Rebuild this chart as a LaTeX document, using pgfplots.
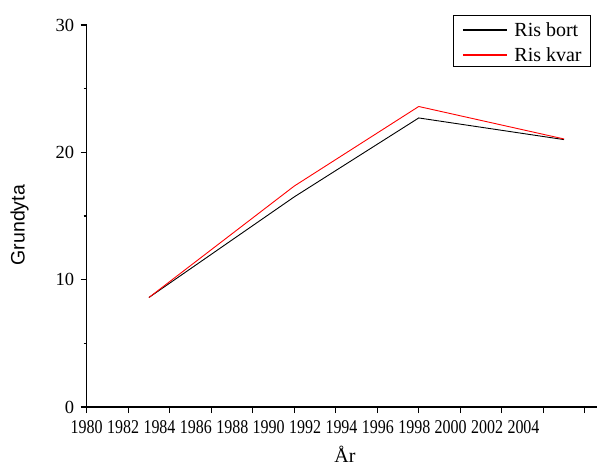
\documentclass[border=0pt]{standalone}
\usepackage{fontspec}
\setmainfont{Liberation Serif}
\newfontfamily\arialfont{Liberation Sans}
\usepackage{graphicx}
\usepackage{pgfplots}
\pgfplotsset{compat=1.18}
\newcommand{\xl}[1]{\scalebox{0.82}[1]{#1}}
\begin{document}
\begin{tikzpicture}[x=1pt,y=1pt]
\path[use as bounding box] (0,0) rectangle (600,466);
\begin{axis}[
  at={(86.7pt,59pt)}, anchor=south west,
  scale only axis, width=510.3pt, height=382pt,
  xmin=1980, xmax=2004.59, ymin=0, ymax=30,
  axis x line*=bottom, axis y line*=left,
  axis line style={line width=1.1pt, -},
  every tick/.style={black, line width=1.1pt},
  tick align=outside,
  major tick length=6pt, minor tick length=3pt,
  xtick={1980,1982,...,2004}, xticklabels={}, minor x tick num=1,
  extra x ticks={1980,1981.754,1983.508,1985.262,1987.016,1988.77,1990.524,1992.278,1994.032,1995.786,1997.54,1999.294,2001.048},
  extra x tick labels={\xl{1980},\xl{1982},\xl{1984},\xl{1986},\xl{1988},\xl{1990},\xl{1992},\xl{1994},\xl{1996},\xl{1998},\xl{2000},\xl{2002},\xl{2004}},
  extra x tick style={major tick length=0pt, xticklabel style={yshift=-10pt}},
  ytick={0,10,20,30}, minor y tick num=1,
  xticklabel style={font=\fontsize{19.5}{19.5}\selectfont},
  yticklabel style={font=\fontsize{18.5}{18.5}\selectfont, xshift=-3pt},
  /pgf/number format/assume math mode=true,
  xlabel={År}, ylabel={Grundyta},
  xlabel style={at={(axis description cs:0.506,-0.1445)}, anchor=base, font=\fontsize{20}{20}\selectfont},
  ylabel style={at={(axis description cs:-0.1317,0.476)}, anchor=center, rotate=0, font=\arialfont\fontsize{19.5}{19.5}\selectfont},
  legend style={at={(0.9883,1.0262)}, anchor=north east, draw=black, line width=0.8pt,
    font=\fontsize{20}{20}\selectfont, inner xsep=9pt, inner ysep=0.9pt, row sep=0.8pt, column sep=7pt,
    nodes={inner sep=0pt, text height=20.7pt, text depth=3.5pt},
    cells={anchor=west}},
  legend image code/.code={\draw[line width=1.2pt, #1] (0pt,-1.6pt) -- (44pt,-1.6pt);},
]
\addplot[black, line width=0.9pt] coordinates {(1983,8.6) (1990,16.5) (1996,22.7) (2003,21.0)};
\addlegendentry{Ris bort}
\addplot[color=red, line width=0.9pt] coordinates {(1983,8.6) (1990,17.35) (1996,23.6) (2003,21.05)};
\addlegendentry{Ris kvar\hspace{2pt}}
\end{axis}
\end{tikzpicture}
\end{document}
